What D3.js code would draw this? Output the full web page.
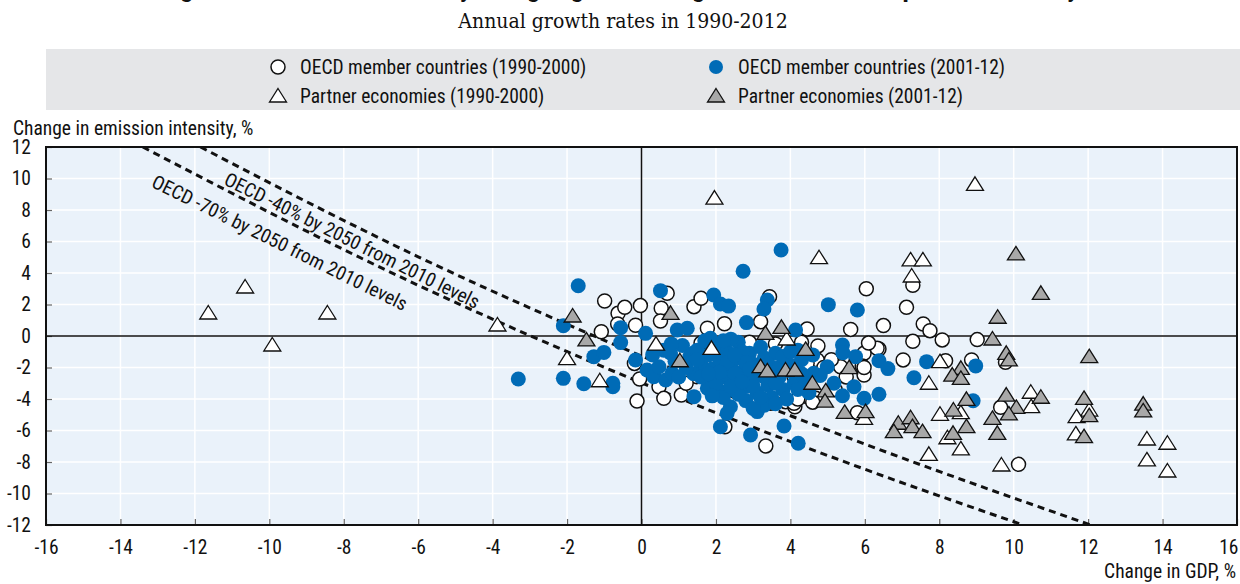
<!DOCTYPE html>
<html>
<head>
<meta charset="utf-8">
<script src="https://cdn.jsdelivr.net/npm/d3@7/dist/d3.min.js"></script>
<style>
  body { margin: 0; background: #fff; }
  text { font-family: "Liberation Sans Narrow", "Roboto Condensed", "DejaVu Sans Condensed", sans-serif; fill: #111; }
</style>
</head>
<body>
<div id="chart"></div>
<script>
// values: [GDP growth %, change in emission intensity %]
var oecd1990 = [
  [-0.99, 2.22], [-1.08, 0.27], [-0.63, 1.44], [-0.45, 1.82], [-0.64, 0.76], [-0.03, 1.93],
  [-0.16, 0.68], [-0.19, -1.74], [-0.05, -2.73], [-0.12, -4.13], [0.47, -3.22], [0.60, -3.96],
  [1.07, -3.75], [0.69, 2.71], [0.53, 1.76], [0.51, 0.95], [1.41, 1.86], [1.60, 2.39],
  [1.77, 0.49], [2.23, 0.78], [3.20, 0.91], [3.44, 2.50], [4.45, 0.44], [5.62, 0.42],
  [4.74, -0.63], [6.04, 3.00], [5.98, -1.10], [1.48, -2.58], [2.24, -5.76], [3.34, -6.98],
  [4.45, -3.85], [4.00, -3.75], [3.87, -4.17], [4.12, -4.49], [5.80, -4.87], [6.38, -0.83],
  [6.50, 0.66], [7.12, 1.82], [7.29, 3.22], [7.57, 0.76], [7.75, 0.34], [7.29, -0.34],
  [8.08, -0.25], [9.02, -0.23], [7.03, -1.52], [8.17, -1.57], [8.87, -1.52], [9.78, -1.67],
  [9.65, -4.53], [10.13, -8.15], [5.35, -1.95], [4.72, -1.52], [4.45, -1.73], [4.10, -2.58],
  [4.10, -4.27], [3.47, -4.27], [4.68, -3.96], [5.93, -1.90], [5.98, -2.48], [6.33, -0.78],
  [1.60, -0.45], [2.00, -1.00], [2.90, -0.40], [3.60, -0.50], [4.30, -0.40], [1.20, -3.00],
  [1.80, -2.80], [2.50, -3.50], [3.40, -4.20], [4.20, -4.00], [4.90, -2.00], [5.10, -1.50],
  [5.50, -2.60], [5.20, -3.40], [4.60, -4.20], [6.10, -0.45], [5.98, -2.00]
];

var oecd2001 = [
  [-3.31, -2.73], [-1.70, 3.19], [-2.10, 0.65], [-2.10, -2.69], [-1.55, -3.03], [-0.77, -3.22],
  [-0.77, -3.00], [-1.28, -1.31], [-1.01, -1.04], [-0.56, -0.42], [-0.56, 0.53], [-0.16, -1.52],
  [0.11, 0.17], [0.15, -2.16], [0.33, -2.58], [0.47, -1.95], [0.65, -2.79], [0.82, -2.37],
  [0.51, 2.88], [0.96, 0.38], [1.23, 0.49], [1.94, 2.60], [1.85, -0.15], [1.41, -3.85],
  [2.12, -5.76], [0.60, -0.90], [0.78, -1.08], [1.40, -1.08], [3.75, 5.46], [2.73, 4.11],
  [2.12, 2.03], [2.34, 1.90], [3.38, 2.29], [3.29, 1.71], [5.02, 1.99], [5.80, 1.65],
  [2.82, 0.85], [4.14, 0.38], [5.40, -0.57], [5.41, -1.06], [5.75, -1.31], [4.63, -2.37],
  [4.99, -1.95], [5.17, -3.00], [5.71, -3.22], [5.40, -3.79], [5.98, -3.96], [1.77, -3.32],
  [2.12, -3.53], [2.48, -3.43], [2.39, -4.49], [2.30, -4.91], [2.93, -6.29], [3.83, -5.71],
  [4.21, -6.81], [3.11, -4.80], [6.38, -1.57], [6.62, -2.07], [7.66, -1.63], [8.98, -1.90],
  [7.32, -2.65], [6.38, -3.70], [8.91, -4.11],
  [1.10, -0.60], [1.30, -1.30], [1.50, -0.90], [1.60, -1.80], [1.80, -1.20], [1.90, -2.10],
  [2.00, -0.60], [2.10, -1.50], [2.20, -2.60], [2.30, -1.00], [2.40, -1.90], [2.50, -2.90],
  [2.60, -0.40], [2.60, -1.40], [2.70, -2.30], [2.80, -3.20], [2.90, -1.10], [3.00, -1.80],
  [3.00, -2.70], [3.10, -3.60], [3.20, -0.70], [3.20, -2.30], [3.30, -1.40], [3.40, -3.10],
  [3.50, -2.00], [3.50, -3.90], [3.60, -1.10], [3.70, -2.60], [3.80, -3.40], [3.90, -1.70],
  [4.00, -2.20], [4.10, -3.00], [4.20, -0.90], [4.30, -1.50], [4.40, -2.80], [4.60, -1.20],
  [4.80, -2.50], [2.20, -3.90], [2.80, -4.10], [3.30, -4.40], [2.00, -3.00], [1.40, -2.40],
  [1.20, -2.00], [0.90, -1.60], [1.70, -0.30], [2.40, -0.20], [3.90, -4.00], [4.50, -3.60],
  [3.00, -4.60], [2.60, -3.70],
  [0.30, -1.20], [0.80, -0.50], [1.00, -2.60], [1.60, -2.60], [1.90, -3.80], [2.20, -0.30],
  [2.30, -1.70], [2.50, -2.40], [2.70, -1.00], [2.80, -1.70], [3.00, -3.20], [3.10, -2.00],
  [3.30, -2.60], [3.40, -1.80], [3.60, -3.00], [3.70, -2.00], [3.80, -1.30], [4.00, -1.00],
  [4.10, -1.90], [4.30, -2.40], [2.10, -2.30], [2.40, -3.20], [2.70, -2.90], [3.20, -3.90],
  [2.90, -2.10], [3.60, -4.30], [4.20, -3.40], [1.50, -1.50], [1.80, -2.40], [2.50, -1.20]
];

var partner1990 = [
  [-11.64, 1.46], [-10.65, 3.11], [-9.92, -0.57], [-8.44, 1.46], [-3.87, 0.70], [-2.00, -1.44],
  [-1.12, -2.84], [0.39, -0.51], [1.88, -0.78], [1.96, 8.76], [3.90, -0.19], [4.77, 4.97],
  [5.98, -5.23], [8.96, 9.63], [7.23, 4.83], [7.56, 4.83], [7.26, 3.81], [8.02, -1.63],
  [7.72, -3.00], [8.02, -4.97], [8.58, -4.87], [8.22, -6.46], [8.58, -7.17], [7.72, -7.51],
  [9.67, -8.19], [10.46, -3.57], [10.47, -4.49], [12.03, -4.70], [11.69, -5.12], [11.67, -6.22],
  [13.58, -6.54], [14.13, -6.81], [13.58, -7.87], [14.13, -8.57]
];

var partner2001 = [
  [-1.85, 1.27], [-1.48, -0.25], [0.78, 1.44], [1.03, -1.57], [3.76, 0.55], [3.33, 0.17],
  [4.41, -0.85], [3.20, -1.95], [3.38, -2.22], [3.87, -2.16], [4.12, -2.16], [5.58, -2.01],
  [4.59, -3.00], [4.95, -3.49], [4.93, -4.13], [5.46, -4.85], [6.02, -4.80], [10.06, 5.21],
  [10.73, 2.71], [9.57, 1.19], [9.43, -0.19], [8.58, -2.05], [8.35, -2.48], [8.58, -2.69],
  [9.80, -1.10], [9.87, -1.52], [8.73, -4.02], [9.80, -3.75], [10.07, -4.53], [9.87, -4.95],
  [10.73, -3.89], [6.90, -5.54], [7.23, -5.19], [7.28, -5.76], [6.78, -6.07], [7.55, -6.07],
  [8.38, -4.70], [9.43, -5.23], [8.73, -5.76], [8.37, -6.18], [9.56, -6.18], [12.03, -1.31],
  [11.89, -3.96], [12.03, -5.06], [11.89, -6.39], [13.48, -4.32], [13.48, -4.76]
];

// target paths
var target40 = [[-11.85, 12], [-6, 5.03], [0, -1.27], [6, -6.86], [12.07, -12]];
var target70 = [[-13.4, 12], [-6, 3.22], [0, -2.97], [6, -8.46], [10.26, -12]];
var targetLabels = ["OECD -40% by 2050 from 2010 levels", "OECD -70% by 2050 from 2010 levels"];
var labelAnchors = [[-11.25, 9.65], [-13.2, 9.5]];

var xTicks = d3.range(-16, 17, 2);
var yTicks = d3.range(-12, 13, 2);

var legendItems = [
  { label: "OECD member countries (1990-2000)", shape: "circle", fill: "#fff" },
  { label: "OECD member countries (2001-12)", shape: "circle", fill: "#006bb6" },
  { label: "Partner economies (1990-2000)", shape: "triangle", fill: "#fff" },
  { label: "Partner economies (2001-12)", shape: "triangle", fill: "#a8a8a8" }
];

var width = 1240, height = 584;
var plotLeft = 46, plotRight = 1237, plotTop = 147, plotBottom = 525;

var svg = d3.select("#chart").append("svg")
  .attr("width", width)
  .attr("height", height);

var x = d3.scaleLinear().domain([-16, 16]).range([plotLeft, plotRight]);
var y = d3.scaleLinear().domain([-12, 12]).range([plotBottom, plotTop]);

function tri(cx, cy) {
  return "M" + cx + "," + (cy - 7.5) + "L" + (cx + 8.5) + "," + (cy + 6) + "L" + (cx - 8.5) + "," + (cy + 6) + "Z";
}

// title (cut off at the top in the original)
svg.append("text")
  .attr("x", 620).attr("y", -3)
  .attr("text-anchor", "middle")
  .style("font-size", "26px").style("font-weight", "bold")
  .text("Figure 1.1. Emission intensity change against GDP growth in OECD and partner economy");

svg.append("text")
  .attr("x", 623).attr("y", 28)
  .attr("text-anchor", "middle")
  .style("font-family", "'DejaVu Serif Condensed', 'DejaVu Serif', serif")
  .style("font-size", "21px")
  .text("Annual growth rates in 1990-2012");

// legend
svg.append("rect")
  .attr("x", 46).attr("y", 49)
  .attr("width", 1194).attr("height", 61)
  .attr("fill", "#e5e6e8");

var legend = svg.selectAll(".legend")
  .data(legendItems)
  .enter().append("g")
  .attr("transform", function(d, i) {
    return "translate(" + (i % 2 == 0 ? 278 : 716) + "," + (i < 2 ? 67 : 96) + ")";
  });

legend.each(function(d) {
  var g = d3.select(this);
  if (d.shape == "circle") {
    g.append("circle").attr("r", 7)
      .attr("fill", d.fill)
      .attr("stroke", d.fill == "#fff" ? "#111" : "none")
      .attr("stroke-width", 1.5);
  } else {
    g.append("path").attr("d", tri(0, 0))
      .attr("fill", d.fill).attr("stroke", "#111").attr("stroke-width", 1.3);
  }
  g.append("text").attr("x", 22).attr("y", 7)
    .style("font-size", "19.5px")
    .text(d.label);
});

// plot area
svg.append("rect")
  .attr("x", plotLeft).attr("y", plotTop)
  .attr("width", plotRight - plotLeft).attr("height", plotBottom - plotTop)
  .attr("fill", "#eaf2fa");

svg.selectAll(".vgrid")
  .data(xTicks)
  .enter().append("line")
  .attr("x1", function(d) { return x(d); })
  .attr("x2", function(d) { return x(d); })
  .attr("y1", plotTop).attr("y2", plotBottom)
  .attr("stroke", "#fff").attr("stroke-width", 1.5);

svg.selectAll(".hgrid")
  .data(yTicks)
  .enter().append("line")
  .attr("y1", function(d) { return y(d); })
  .attr("y2", function(d) { return y(d); })
  .attr("x1", plotLeft).attr("x2", plotRight)
  .attr("stroke", "#fff").attr("stroke-width", 1.5);

// axes
var fmt = function(d) { return String(d); };
var xAxis = svg.append("g")
  .attr("transform", "translate(0," + plotBottom + ")")
  .call(d3.axisBottom(x).tickValues(xTicks).tickFormat(fmt).tickSize(-6).tickPadding(15));
var yAxis = svg.append("g")
  .attr("transform", "translate(" + plotLeft + ",0)")
  .call(d3.axisLeft(y).tickValues(yTicks).tickFormat(fmt).tickSize(-6).tickPadding(15));

[xAxis, yAxis].forEach(function(a) {
  a.select(".domain").remove();
  a.selectAll(".tick line").attr("stroke", "#666").attr("stroke-width", 1.2);
  a.selectAll(".tick text")
    .style("font-family", "'Liberation Sans Narrow', 'Roboto Condensed', sans-serif")
    .style("font-size", "19.5px").attr("fill", "#111");
});
// keep the last x label inside the picture
xAxis.selectAll(".tick text")
  .filter(function(d) { return d == 16; })
  .attr("text-anchor", "end").attr("dx", 1);

// zero lines
svg.append("line")
  .attr("x1", x(0)).attr("x2", x(0)).attr("y1", plotTop).attr("y2", plotBottom)
  .attr("stroke", "#111").attr("stroke-width", 1.5);
svg.append("line")
  .attr("x1", plotLeft).attr("x2", plotRight).attr("y1", y(0)).attr("y2", y(0))
  .attr("stroke", "#111").attr("stroke-width", 1.5);

// dashed target lines
svg.append("clipPath").attr("id", "plotclip")
  .append("rect")
  .attr("x", plotLeft).attr("y", plotTop)
  .attr("width", plotRight - plotLeft).attr("height", plotBottom - plotTop);

var line = d3.line()
  .x(function(d) { return x(d[0]); })
  .y(function(d) { return y(d[1]); })
  .curve(d3.curveMonotoneX);

[target40, target70].forEach(function(t) {
  svg.append("path")
    .attr("d", line(t))
    .attr("clip-path", "url(#plotclip)")
    .attr("fill", "none")
    .attr("stroke", "#111")
    .attr("stroke-width", 3)
    .attr("stroke-dasharray", "7,5");
});

[target40, target70].forEach(function(t, i) {
  var angle = Math.atan2(y(t[1][1]) - y(t[0][1]), x(t[1][0]) - x(t[0][0])) * 180 / Math.PI;
  svg.append("text")
    .attr("transform", "translate(" + x(labelAnchors[i][0]) + "," + y(labelAnchors[i][1]) + ") rotate(" + (angle - 0.4) + ")")
    .style("font-size", "19.5px")
    .text(targetLabels[i]);
});

// points
var pts = svg.append("g").attr("clip-path", "url(#plotclip)");

pts.selectAll(".o90")
  .data(oecd1990)
  .enter().append("circle")
  .attr("cx", function(d) { return x(d[0]); })
  .attr("cy", function(d) { return y(d[1]); })
  .attr("r", 7)
  .attr("fill", "#fff").attr("stroke", "#111").attr("stroke-width", 1.5);

pts.selectAll(".o01")
  .data(oecd2001)
  .enter().append("circle")
  .attr("cx", function(d) { return x(d[0]); })
  .attr("cy", function(d) { return y(d[1]); })
  .attr("r", 7.5)
  .attr("fill", "#006bb6");

pts.selectAll(".p90")
  .data(partner1990)
  .enter().append("path")
  .attr("d", function(d) { return tri(x(d[0]), y(d[1])); })
  .attr("fill", "#fff").attr("stroke", "#111").attr("stroke-width", 1.3);

pts.selectAll(".p01")
  .data(partner2001)
  .enter().append("path")
  .attr("d", function(d) { return tri(x(d[0]), y(d[1])); })
  .attr("fill", "#a8a8a8").attr("stroke", "#111").attr("stroke-width", 1.3);

// frame
svg.append("rect")
  .attr("x", plotLeft).attr("y", plotTop)
  .attr("width", plotRight - plotLeft).attr("height", plotBottom - plotTop)
  .attr("fill", "none").attr("stroke", "#111").attr("stroke-width", 2);

// axis titles
svg.append("text")
  .attr("x", 13).attr("y", 135)
  .style("font-size", "19.5px")
  .text("Change in emission intensity, %");

svg.append("text")
  .attr("x", 1236).attr("y", 578)
  .attr("text-anchor", "end")
  .style("font-size", "19.5px")
  .text("Change in GDP, %");
</script>
</body>
</html>
